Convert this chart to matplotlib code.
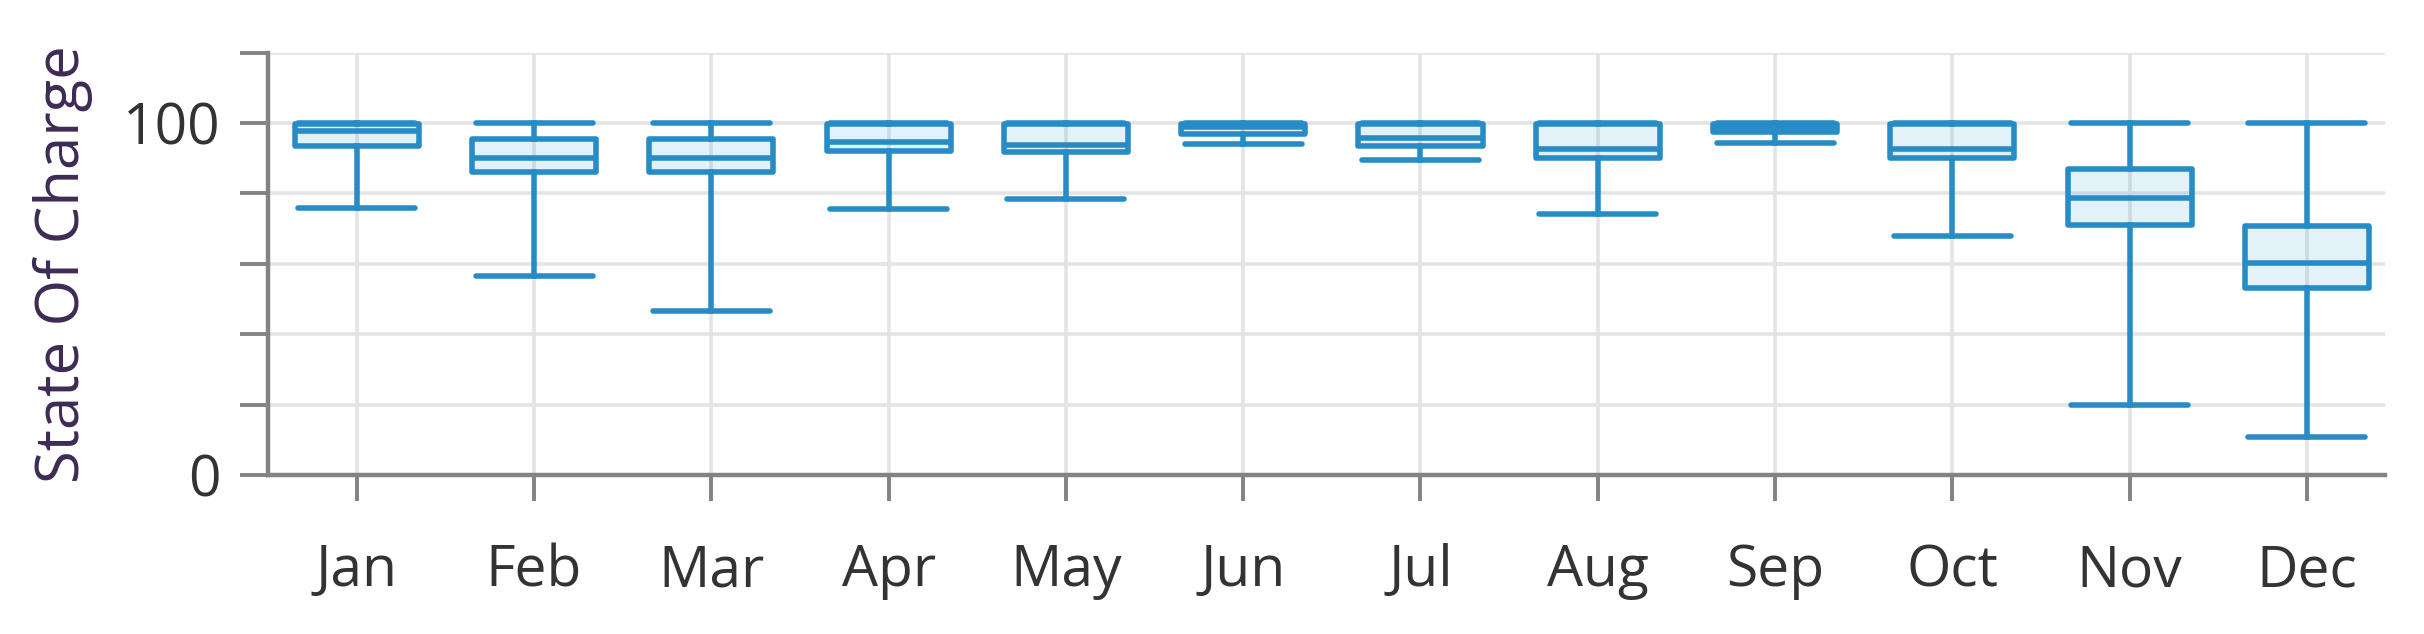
import matplotlib
matplotlib.use('Agg')
import matplotlib.pyplot as plt

_OUT_PATH = 'out.png'
_BLUE = '#278cc6'
_FILL = (0.18, 0.58, 0.80, 0.13)
_GRID = '#e4e4e4'
_SPINE = '#838383'

# Monthly state of charge distribution
months = ['Jan', 'Feb', 'Mar', 'Apr', 'May', 'Jun',
          'Jul', 'Aug', 'Sep', 'Oct', 'Nov', 'Dec']
whis_low = [75.8, 56.5, 46.5, 75.5, 78.5, 94.0, 89.5, 74.2, 94.2, 68.0, 19.8, 10.8]
q1 = [93.5, 86.0, 86.0, 92.0, 91.8, 97.0, 93.4, 90.2, 97.5, 90.2, 71.0, 53.2]
median = [97.7, 90.2, 90.2, 94.6, 93.8, 98.8, 95.8, 92.5, 99.0, 92.6, 78.6, 60.3]
q3 = [99.7, 95.5, 95.4, 99.8, 99.7, 99.8, 99.8, 99.7, 99.8, 99.7, 86.8, 70.8]
whis_high = [100, 100, 100, 100, 100, 100, 100, 100, 100, 100, 100, 100]

y_ticks = [0, 20, 40, 60, 80, 100, 120]
y_tick_labels = ['0', '', '', '', '', '100', '']

plt.rcParams['font.family'] = ['Open Sans', 'DejaVu Sans']

stats = []
for i, m in enumerate(months):
    stats.append({'label': m, 'whislo': whis_low[i], 'q1': q1[i], 'med': median[i],
                  'q3': q3[i], 'whishi': whis_high[i], 'fliers': []})

fig = plt.figure(figsize=(24.24, 6.34), dpi=100)
ax = fig.add_axes([0.1106, 0.2508, 0.8733, 0.6662])

lw = 4.0
ax.bxp(stats, positions=range(len(months)), widths=0.70, capwidths=0.66,
       patch_artist=True, showfliers=False,
       boxprops=dict(facecolor=_FILL, edgecolor=_BLUE, linewidth=lw, joinstyle='round'),
       medianprops=dict(color=_BLUE, linewidth=lw),
       whiskerprops=dict(color=_BLUE, linewidth=lw),
       capprops=dict(color=_BLUE, linewidth=lw, solid_capstyle='round'),
       zorder=3)

ax.set_xlim(-0.50, 11.44)
ax.set_ylim(0, 120)
ax.set_xticks(range(len(months)))
ax.set_xticklabels(months)
ax.set_yticks(y_ticks)
ax.set_yticklabels(y_tick_labels)

ax.grid(True, color=_GRID, linewidth=2.6, zorder=0)
ax.set_axisbelow(True)

for side in ['top', 'right']:
    ax.spines[side].set_visible(False)
for side in ['left', 'bottom']:
    ax.spines[side].set_color(_SPINE)
    ax.spines[side].set_linewidth(3.2)

ax.tick_params(axis='y', length=20, width=2.8, color=_SPINE, pad=14,
               labelsize=41, labelcolor='#333333')
ax.tick_params(axis='x', length=19, width=2.8, color=_SPINE, pad=30,
               labelsize=41, labelcolor='#333333')

ax.set_ylabel('State Of Charge', fontsize=43, color='#3d2b56')
ax.yaxis.label.set_va('center')
ax.yaxis.set_label_coords(-0.097, 0.5)

fig.savefig(_OUT_PATH, dpi=100)
plt.close(fig)
